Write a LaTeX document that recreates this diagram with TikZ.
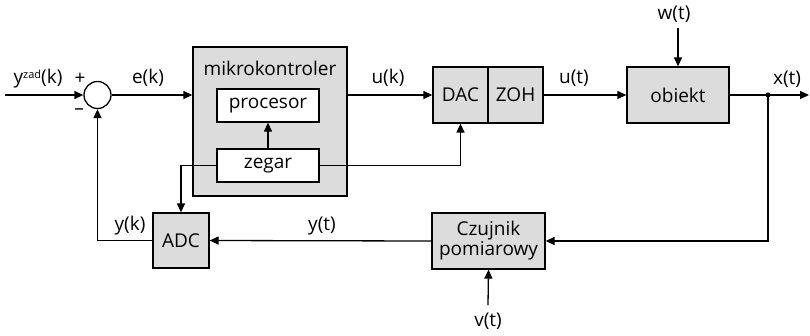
\documentclass[tikz,border=0pt]{standalone}
\usepackage{fontspec}
\setmainfont{Open Sans}
\usetikzlibrary{arrows.meta}
\definecolor{boxgray}{HTML}{DCDCDC}
\begin{document}
\begin{tikzpicture}[x=1pt,y=-1pt,
  font=\fontsize{19}{21}\selectfont,
  line width=1.3pt,
  >={Triangle[length=9pt,width=8pt]},
  blk/.style={draw, fill=boxgray, inner sep=0pt, line width=1.3pt},
  inbox/.style={draw, fill=white, inner sep=0pt, line width=1.3pt},
  lbl/.style={inner sep=0pt}]
\useasboundingbox (0,0) rectangle (810,335);
% blocks
\node[blk, minimum width=154pt, minimum height=149pt] (mikro) at (270,121.5) {};
\node[lbl] (mktxt) at (270,68) {mikrokontroler};
\node[inbox, minimum width=102pt, minimum height=33pt] (proc) at (268,105.5) {procesor};
\node[inbox, minimum width=102pt, minimum height=33pt] (zegar) at (268,165.5) {zegar};
\node[blk, minimum width=55pt, minimum height=56pt] (dac) at (460.5,95) {DAC};
\node[blk, minimum width=55pt, minimum height=56pt] (zoh) at (515.5,95) {ZOH};
\node[blk, minimum width=102pt, minimum height=56pt] (obj) at (678,95) {obiekt};
\node[blk, minimum width=56pt, minimum height=55pt] (adc) at (181,240.5) {ADC};
\node[blk, minimum width=113pt, minimum height=56pt, align=center, font=\fontsize{19}{20}\selectfont] (czuj) at (488.5,241) {Czujnik\\pomiarowy};
\node[draw, circle, fill=white, minimum size=27pt, inner sep=0pt] (sum) at (97.5,95) {};
% free ends
\coordinate (in) at (5,95);
\coordinate (out) at (809,95);
\coordinate (dot) at (768,95);
\coordinate (wtop) at (678,28);
\coordinate (vbot) at (488,305);
% connectors
\draw[->] (in) -- (sum.west);
\draw[->] (sum.east) -- (sum.east -| mikro.west);
\draw[->] (mikro.east |- dac.west) -- (dac.west);
\draw[->] (zoh.east) -- (obj.west);
\draw[->] (wtop) -- (obj.north);
\draw[->] (obj.east) -- (out);
\fill (dot) circle (2.6pt);
\draw[->] (dot) |- (czuj.east);
\draw[->] (czuj.west) -- (adc.east);
\draw[->] (vbot) -- (czuj.south);
\draw[->] (adc.west) -| (sum.south);
\draw[->] (zegar.north) -- (proc.south);
\draw[->] (zegar.west) -| (adc.north);
\draw[->] (zegar.east) -| (dac.south);
% labels
\node[lbl] (lyzad) at (38,79) {y\raisebox{0.55ex}{\fontsize{11}{11}\selectfont zad}(k)};
\node[lbl] (lplus) at (80,79) {+};
\node[lbl] (lminus) at (79,112) {–};
\node[lbl] (lek) at (148,78) {e(k)};
\node[lbl] (luk) at (388,78) {u(k)};
\node[lbl] (lut) at (574,78) {u(t)};
\node[lbl] (lwt) at (674,14) {w(t)};
\node[lbl] (lxt) at (787,79) {x(t)};
\node[lbl] (lyt) at (322,226) {y(t)};
\node[lbl] (lyk) at (130,226) {y(k)};
\node[lbl] (lvt) at (488,321) {v(t)};
\end{tikzpicture}
\end{document}
